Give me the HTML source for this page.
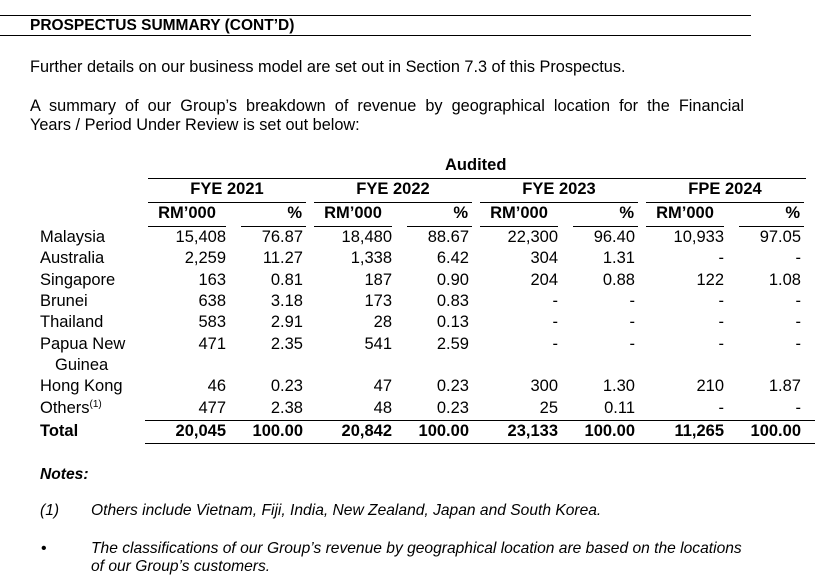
<!DOCTYPE html>
<html><head><meta charset="utf-8">
<style>
body{margin:0;width:826px;height:577px;background:#fff;position:relative;overflow:hidden;font-family:"Liberation Sans",Arial,sans-serif;color:#000}
.t{position:absolute;white-space:nowrap;line-height:1}
.r{text-align:right}
.b{font-weight:bold}
.ln{position:absolute;height:1px;background:#000}
.tb{font-size:16.5px}
.ni{font-size:15.6px;font-style:italic}
</style></head><body>
<div class="ln" style="left:0;top:15px;width:751px"></div>
<div class="ln" style="left:0;top:35px;width:751px"></div>
<div class="t b" style="left:30px;top:18px;font-size:15.5px">PROSPECTUS SUMMARY (CONT’D)</div>
<div class="t" style="left:30px;top:59px;font-size:16.3px">Further details on our business model are set out in Section 7.3 of this Prospectus.</div>
<div class="t" style="left:30px;top:98px;font-size:16.3px;width:714px;white-space:normal;text-align:justify;text-align-last:justify">A summary of our Group’s breakdown of revenue by geographical location for the Financial</div>
<div class="t" style="left:30px;top:117px;font-size:16.3px">Years / Period Under Review is set out below:</div>
<div id="tbl"></div>
<div class="t b ni" style="left:40px;top:467px">Notes:</div>
<div class="t ni" style="left:40px;top:503px">(1)</div>
<div class="t ni" style="left:91px;top:503px">Others include Vietnam, Fiji, India, New Zealand, Japan and South Korea.</div>
<div class="t" style="left:41px;top:541px;font-size:16px">•</div>
<div class="t ni" style="left:91px;top:540px;line-height:18px">The classifications of our Group’s revenue by geographical location are based on the locations<br>of our Group’s customers.</div>
<script>
const periods=["FYE 2021","FYE 2022","FYE 2023","FPE 2024"];
const regions=["Malaysia","Australia","Singapore","Brunei","Thailand","Papua New","Hong Kong","Others"];
const rm=[["15,408","18,480","22,300","10,933"],["2,259","1,338","304","-"],["163","187","204","122"],["638","173","-","-"],["583","28","-","-"],["471","541","-","-"],["46","47","300","210"],["477","48","25","-"]];
const pct=[["76.87","88.67","96.40","97.05"],["11.27","6.42","1.31","-"],["0.81","0.90","0.88","1.08"],["3.18","0.83","-","-"],["2.91","0.13","-","-"],["2.35","2.59","-","-"],["0.23","0.23","1.30","1.87"],["2.38","0.23","0.11","-"]];
const totRm=["20,045","20,842","23,133","11,265"];
const totPct=["100.00","100.00","100.00","100.00"];
const rowY=[229,250,272,293,314,336,378,400];
const gx=[148,314,480,646],gw=158;
const T=document.getElementById('tbl');
function add(cls,txt,css){const d=document.createElement('div');d.className=cls;d.innerHTML=txt;d.style.cssText=css;T.appendChild(d);return d;}
let e=add('t tb b','Audited','left:445px;top:157px');


e=add('ln','','left:148px;top:178px;width:658px');


periods.forEach((p,i)=>{
 const x=gx[i];
 let h=add('t tb b',p,'left:'+x+'px;top:181px;width:'+gw+'px;text-align:center');
 
 
 let l=add('ln','','left:'+x+'px;top:202px;width:'+gw+'px');
 
 
 let a=add('t tb b','RM’000','left:'+x+'px;top:205px;width:78px;text-align:center');
 
 
 let c=add('t tb b','%','left:'+(x+92)+'px;top:205px;width:62px;text-align:right');
 
 
 let l1=add('ln','','left:'+x+'px;top:226px;width:78px');
 
 
 let l2=add('ln','','left:'+(x+93)+'px;top:226px;width:'+(gw-93)+'px');
 
 
 regions.forEach((r,j)=>{
  let v=add('t tb r',rm[j][i],'left:'+(x)+'px;top:'+rowY[j]+'px;width:78px');
  
  
  let q=add('t tb r',pct[j][i],'left:'+(x+92)+'px;top:'+rowY[j]+'px;width:63px');
  
  
 });
 let tv=add('t tb r b',totRm[i],'left:'+x+'px;top:423px;width:78px');
 
 
 let tp=add('t tb r b',totPct[i],'left:'+(x+92)+'px;top:423px;width:63px');
 
 
});
regions.forEach((r,j)=>{
 let lab=add('t tb',r+(r==='Others'?'<sup style="font-size:10px;vertical-align:6px">(1)</sup>':''),'left:40px;top:'+rowY[j]+'px');
 
 
});
e=add('t tb','Guinea','left:55px;top:357px');


e=add('t tb b','Total','left:40px;top:423px');


e=add('ln','','left:145px;top:420px;width:670px');


e=add('ln','','left:145px;top:443px;width:670px');


</script>
</body></html>
